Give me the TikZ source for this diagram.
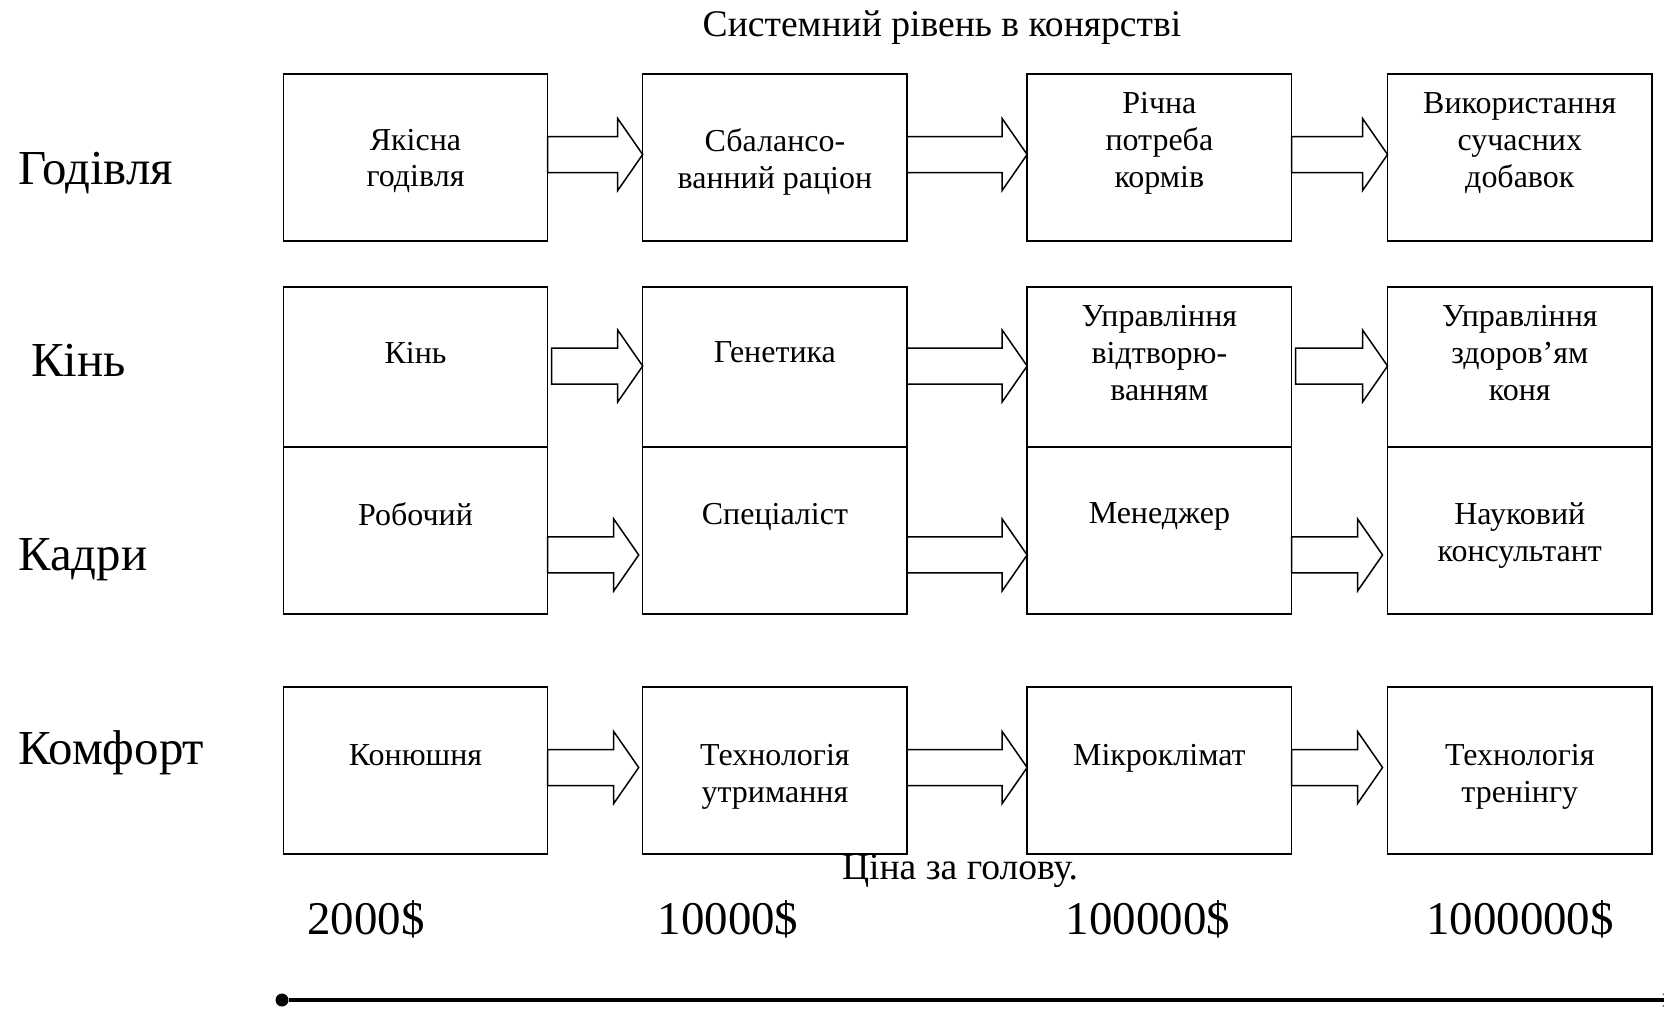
\documentclass[tikz,border=0pt]{standalone}
\usepackage{fontspec}
\setmainfont{Liberation Serif}
\usepackage{tikz}
\usetikzlibrary{arrows, positioning, calc}
\tikzstyle{box} = [rectangle, draw, line width=0.85pt, minimum width=5.29cm, minimum height=3.34cm, inner sep=0pt, outer sep=0pt]
\tikzstyle{boxtext} = [align=center, inner sep=0pt, font=\fontsize{18.2}{21}\selectfont]
\tikzstyle{rowlabel} = [anchor=base west, inner sep=0pt, font=\fontsize{27.8}{33}\selectfont]
\tikzstyle{price} = [anchor=base, inner sep=0pt, font=\fontsize{26.7}{32}\selectfont]
\tikzstyle{heading} = [anchor=base, inner sep=0pt, font=\fontsize{21.4}{25}\selectfont]
% block arrow: from, to, y offset, gap at start, gap at tip
\newcommand{\blockarrow}[5]{%
	\draw[line width=0.85pt, line join=miter] ($(#1.east)+(#4,#3-18)$) -- ($(#2.west)+(-#5-25,#3-18)$) -- ++(0,-18)
		-- ($(#2.west)+(-#5,#3)$) -- ($(#2.west)+(-#5-25,#3+36)$) -- ++(0,-18) -- ($(#1.east)+(#4,#3+18)$) -- cycle;}

\begin{document}
\begin{tikzpicture}[x=0.02cm, y=-0.02cm]
	\useasboundingbox (0,0) rectangle (1664,1009);
	\clip (0,0) rectangle (1664,1009);
	
	% Title
	\node[heading] (title) at (942,36) {Системний рівень в конярстві};
	
	% Row labels
	\node[rowlabel] (lfeed) at (18,184) {Годівля};
	\node[rowlabel] (lhorse) at (31,376) {Кінь};
	\node[rowlabel] (lstaff) at (18,570) {Кадри};
	\node[rowlabel] (lcomfort) at (18,764) {Комфорт};
	
	% Feeding
	\node[box] (g1) at (415.5,157.5) {};
	\node[box, right=1.9cm of g1] (g2) {};
	\node[box, right=2.4cm of g2] (g3) {};
	\node[box, right=1.92cm of g3] (g4) {};
	\node[boxtext, below=1.09cm of g1.north] (g1t) {Якісна\\годівля};
	\node[boxtext, below=1.09cm of g2.north] (g2t) {Сбалансо-\\ванний раціон};
	\node[boxtext, below=0.36cm of g3.north] (g3t) {Річна\\потреба\\кормів};
	\node[boxtext, below=0.36cm of g4.north] (g4t) {Використання\\сучасних\\добавок};
	
	% Horse
	\node[box, minimum height=3.2cm] (k1) at (415.5,367) {};
	\node[box, minimum height=3.2cm, right=1.9cm of k1] (k2) {};
	\node[box, minimum height=3.2cm, right=2.4cm of k2] (k3) {};
	\node[box, minimum height=3.2cm, right=1.92cm of k3] (k4) {};
	\node[boxtext, below=1.09cm of k1.north] (k1t) {Кінь};
	\node[boxtext, below=1.09cm of k2.north] (k2t) {Генетика};
	\node[boxtext, below=0.36cm of k3.north] (k3t) {Управління\\відтворю-\\ванням};
	\node[boxtext, below=0.36cm of k4.north] (k4t) {Управління\\здоров’ям\\коня};
	
	% Staff
	\node[box, below=0cm of k1] (p1) {};
	\node[box, below=0cm of k2] (p2) {};
	\node[box, below=0cm of k3] (p3) {};
	\node[box, below=0cm of k4] (p4) {};
	\node[boxtext, below=1.11cm of p1.north] (p1t) {Робочий};
	\node[boxtext, below=1.11cm of p2.north] (p2t) {Спеціаліст};
	\node[boxtext, below=1.11cm of p3.north] (p3t) {Менеджер};
	\node[boxtext, below=1.11cm of p4.north] (p4t) {Науковий\\консультант};
	
	% Comfort
	\node[box] (c1) at (415.5,770.5) {};
	\node[box, right=1.9cm of c1] (c2) {};
	\node[box, right=2.4cm of c2] (c3) {};
	\node[box, right=1.92cm of c3] (c4) {};
	\node[boxtext, below=1.14cm of c1.north] (c1t) {Конюшня};
	\node[boxtext, below=1.14cm of c2.north] (c2t) {Технологія\\утримання};
	\node[boxtext, below=1.14cm of c3.north] (c3t) {Мікроклімат};
	\node[boxtext, below=1.14cm of c4.north] (c4t) {Технологія\\тренінгу};
	
	% Arrows
	\blockarrow{g1}{g2}{-3}{0}{0}
	\blockarrow{g2}{g3}{-3}{0}{0}
	\blockarrow{g3}{g4}{-3}{0}{0}
	\blockarrow{k1}{k2}{-1}{4}{0}
	\blockarrow{k2}{k3}{-1}{0}{0}
	\blockarrow{k3}{k4}{-1}{4}{0}
	\blockarrow{p1}{p2}{24.5}{0}{4}
	\blockarrow{p2}{p3}{24.5}{0}{0}
	\blockarrow{p3}{p4}{24.5}{0}{5}
	\blockarrow{c1}{c2}{-3}{0}{4}
	\blockarrow{c2}{c3}{-3}{0}{0}
	\blockarrow{c3}{c4}{-3}{0}{5}
	
	% Price scale
	\node[heading] (pricetitle) at (960,879) {Ціна за голову.};
	\node[price] (pr1) at (366,934) {2000\$};
	\node[price] (pr2) at (728,934) {10000\$};
	\node[price] (pr3) at (1148,934) {100000\$};
	\node[price] (pr4) at (1520,934) {1000000\$};
	\node[circle, fill, inner sep=0pt, minimum size=0.26cm] (axisstart) at (282,1000) {};
	\coordinate (axisend) at (1676,1000);
	\draw[line width=2.3pt, ->, >=stealth] (axisstart) -- (axisend);
\end{tikzpicture}
\end{document}
